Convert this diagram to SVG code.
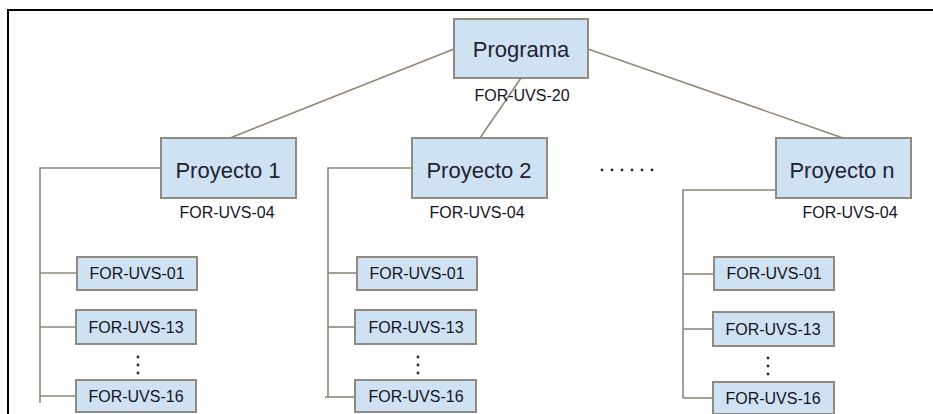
<svg xmlns="http://www.w3.org/2000/svg" width="933" height="414" viewBox="0 0 933 414">
  <style>
    .box { fill: #cfe2f3; stroke: #8f8b80; stroke-width: 2; }
    .link { fill: none; stroke: #8f8878; stroke-width: 1.6; }
    .big { font-family: "Liberation Sans", Arial, sans-serif; font-size: 22px; fill: #1f2330; text-anchor: middle; }
    .code { font-family: "Liberation Sans", Arial, sans-serif; font-size: 16px; fill: #14141e; text-anchor: middle; }
    .dot { fill: #2a2440; }
  </style>
  <rect width="933" height="414" fill="#ffffff"/>

  <!-- frame -->
  <path d="M8 414 V10 H933" fill="none" stroke="#000000" stroke-width="2"/>

  <!-- connectors -->
  <g id="connectors">
    <line class="link" x1="454" y1="49" x2="230" y2="138"/>
    <line class="link" x1="521" y1="78" x2="480" y2="138"/>
    <line class="link" x1="588" y1="49" x2="843" y2="138"/>

    <path class="link" d="M161 168 H40 V403"/>
    <line class="link" x1="40" y1="273" x2="77" y2="273"/>
    <line class="link" x1="40" y1="327" x2="76" y2="327"/>
    <line class="link" x1="40" y1="396" x2="76" y2="396"/>

    <path class="link" d="M412 168 H328 V397"/>
    <line class="link" x1="328" y1="273" x2="357" y2="273"/>
    <line class="link" x1="328" y1="327" x2="355" y2="327"/>
    <line class="link" x1="325" y1="397" x2="355" y2="397"/>

    <path class="link" d="M776 190 H683 V398"/>
    <line class="link" x1="683" y1="274" x2="714" y2="274"/>
    <line class="link" x1="683" y1="329" x2="713" y2="329"/>
    <line class="link" x1="683" y1="398" x2="713" y2="398"/>
  </g>

  <!-- top node -->
  <g id="programa">
    <rect class="box" x="454" y="19" width="134" height="59"/>
    <text class="big" x="521" y="57">Programa</text>
    <text class="code" x="522" y="101">FOR-UVS-20</text>
  </g>

  <!-- project nodes -->
  <g id="proyecto-1">
    <rect class="box" x="161" y="138" width="135" height="60"/>
    <text class="big" x="228" y="178">Proyecto 1</text>
    <text class="code" x="227" y="218">FOR-UVS-04</text>
  </g>
  <g id="proyecto-2">
    <rect class="box" x="412" y="138" width="135" height="60"/>
    <text class="big" x="479" y="178">Proyecto 2</text>
    <text class="code" x="477" y="218">FOR-UVS-04</text>
  </g>
  <g id="proyecto-n">
    <rect class="box" x="776" y="138" width="135" height="60"/>
    <text class="big" x="842" y="178">Proyecto n</text>
    <text class="code" x="850" y="218">FOR-UVS-04</text>
  </g>

  <!-- horizontal ellipsis between projects -->
  <g id="more-projects">
    <circle class="dot" cx="602" cy="170" r="1.4"/>
    <circle class="dot" cx="612" cy="170" r="1.4"/>
    <circle class="dot" cx="622" cy="170" r="1.4"/>
    <circle class="dot" cx="632" cy="170" r="1.4"/>
    <circle class="dot" cx="642" cy="170" r="1.4"/>
    <circle class="dot" cx="652" cy="170" r="1.4"/>
  </g>

  <!-- column 1 forms -->
  <g id="p1-for-01">
    <rect class="box" x="77" y="257" width="120" height="33"/>
    <text class="code" x="137" y="279">FOR-UVS-01</text>
  </g>
  <g id="p1-for-13">
    <rect class="box" x="76" y="310" width="120" height="34"/>
    <text class="code" x="136" y="333">FOR-UVS-13</text>
  </g>
  <g id="p1-more">
    <circle class="dot" cx="138" cy="357" r="1.4"/>
    <circle class="dot" cx="138" cy="365" r="1.4"/>
    <circle class="dot" cx="138" cy="373" r="1.4"/>
  </g>
  <g id="p1-for-16">
    <rect class="box" x="76" y="380" width="120" height="32"/>
    <text class="code" x="136" y="402">FOR-UVS-16</text>
  </g>

  <!-- column 2 forms -->
  <g id="p2-for-01">
    <rect class="box" x="357" y="257" width="120" height="33"/>
    <text class="code" x="417" y="279">FOR-UVS-01</text>
  </g>
  <g id="p2-for-13">
    <rect class="box" x="355" y="310" width="121" height="34"/>
    <text class="code" x="416" y="333">FOR-UVS-13</text>
  </g>
  <g id="p2-more">
    <circle class="dot" cx="418" cy="357" r="1.4"/>
    <circle class="dot" cx="418" cy="365" r="1.4"/>
    <circle class="dot" cx="418" cy="373" r="1.4"/>
  </g>
  <g id="p2-for-16">
    <rect class="box" x="355" y="380" width="121" height="32"/>
    <text class="code" x="416" y="402">FOR-UVS-16</text>
  </g>

  <!-- column 3 forms -->
  <g id="pn-for-01">
    <rect class="box" x="714" y="257" width="120" height="33"/>
    <text class="code" x="774" y="279">FOR-UVS-01</text>
  </g>
  <g id="pn-for-13">
    <rect class="box" x="713" y="312" width="121" height="34"/>
    <text class="code" x="773" y="335">FOR-UVS-13</text>
  </g>
  <g id="pn-more">
    <circle class="dot" cx="768" cy="358" r="1.4"/>
    <circle class="dot" cx="768" cy="366" r="1.4"/>
    <circle class="dot" cx="768" cy="374" r="1.4"/>
  </g>
  <g id="pn-for-16">
    <rect class="box" x="713" y="382" width="121" height="32"/>
    <text class="code" x="773" y="404">FOR-UVS-16</text>
  </g>
</svg>
